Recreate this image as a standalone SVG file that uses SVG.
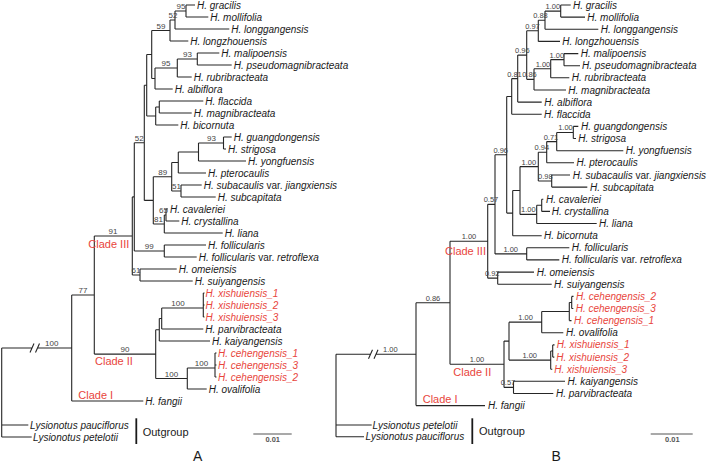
<svg xmlns="http://www.w3.org/2000/svg" width="709" height="462" viewBox="0 0 709 462">
<style>
.br{fill:none;stroke:#262626;stroke-width:1.1}
.lf{font-family:"Liberation Sans",Arial,sans-serif;font-size:10px;font-style:italic;fill:#1a1a1a}
.rd{fill:#e8453c}
.nv{font-style:normal}
.sa{font-family:"Liberation Sans",Arial,sans-serif;font-size:8px;fill:#444;text-anchor:middle}
.sb{font-family:"Liberation Sans",Arial,sans-serif;font-size:7.5px;fill:#444;text-anchor:middle}
.cl{font-family:"Liberation Sans",Arial,sans-serif;font-size:11px;fill:#e8453c}
.og{font-family:"Liberation Sans",Arial,sans-serif;font-size:11px;fill:#1a1a1a}
.bar{stroke:#1a1a1a;stroke-width:1.8}
.sc{stroke:#555;stroke-width:1.2}
.sct{font-family:"Liberation Sans",Arial,sans-serif;font-size:7.5px;fill:#555;text-anchor:middle;font-weight:bold}
.pl{font-family:"Liberation Sans",Arial,sans-serif;font-size:14px;fill:#1a1a1a}
</style>
<rect width="709" height="462" fill="#fff"/>
<g id="connectors">
<path class="br" d="M1.7,348V437M1.7,425H28.3M1.7,437H31.7M1.7,348H32M37.5,348H71.7
M30,352.5L34,343.5M35.5,352.5L39.5,343.5
M71.7,295V401M71.7,295H94.3M71.7,401H143.3
M94.3,236V354.1M94.3,236H132.3M94.3,354.1H155.7
M132.3,196.9V275M132.3,196.9H134.3M132.3,275H140
M140,269V281M140,269H176.7M140,281H192.7
M134.3,142.8V251M134.3,142.8H144.3M134.3,251H164.3
M164.3,245V257M164.3,245H206M164.3,257H196.7
M144.3,85.25V200.4M144.3,85.25H146.7M144.3,200.4H153.3
M146.7,54.5V116M146.7,54.5H151.7M146.7,116H155.7
M151.7,30.5V78.5M151.7,30.5H170M151.7,78.5H155
M170,20V41M170,20H175M170,41H188.3
M175,11V29M175,11H186M175,29H229.3
M186,5V17M186,5H195M186,17H208.3
M155,68V89M155,68H177.3M155,89H172.7
M177.3,59V77M177.3,59H197.3M177.3,77H191.7
M197.3,53V65M197.3,53H219.3M197.3,65H231.7
M155.7,107V125M155.7,107H159.3M155.7,125H178.3
M159.3,101V113M159.3,101H203.3M159.3,113H191.7
M153.3,176.75V224M153.3,176.75H171.7M153.3,224H164.3
M171.7,162.5V191M171.7,162.5H178.3M171.7,191H181
M178.3,152V173M178.3,152H198.5M178.3,173H206
M198.5,143V161M198.5,143H223.5M198.5,161H246
M223.5,137V149M223.5,137H231.7M223.5,149H226
M181,185V197M181,185H201.7M181,197H215.7
M164.3,215V233M164.3,215H166M164.3,233H222.7
M166,209V221M166,209H168M166,221H179.3
M155.7,329.75V378.5M155.7,329.75H159.3M155.7,378.5H187.3
M159.3,318.5V341M159.3,318.5H161.7M159.3,341H210
M161.7,308V329M161.7,308H203.3M161.7,329H203.3
M203.3,293V317M203.3,293H204.5M203.3,305H204.5M203.3,317H204.5
M187.3,368V389M187.3,368H215M187.3,389H206.7
M215,353V377M215,353H216.5M215,365H216.5M215,377H216.5"/>
<path class="br" d="M336,354.2V436.7M336,425H371.7M336,436.7H364M336,354.2H370.5M376,354.2H416
M368.5,358.7L372.5,349.7M374,358.7L378,349.7
M416,302.75V405.6M416,302.75H450M416,405.6H485
M450,241.25V364.25M450,241.25H487.7M450,364.25H504
M487.7,204.35V278.15M487.7,204.35H495M487.7,278.15H497.7
M497.7,272.1V284.2M497.7,272.1H534M497.7,284.2H551.7
M495,154.8V253.9M495,154.8H506.7M495,253.9H526.7
M526.7,247.8V259.9M526.7,247.8H569.3M526.7,259.9H559.3
M506.7,96.45V213.1M506.7,96.45H511.7M506.7,213.1H512.7
M511.7,78.6V114.3M511.7,78.6H517.7M511.7,114.3H541.7
M517.7,55.1V102.1M517.7,55.1H526.7M517.7,102.1H541.7
M526.7,30.8V79.35M526.7,30.8H538.3M526.7,79.35H534
M538.3,20.2V41.4M538.3,20.2H545M538.3,41.4H560
M545,11.1V29.3M545,11.1H560.7M545,29.3H598.3
M560.7,5V17.1M560.7,5H570.7M560.7,17.1H585
M534,68.7V90M534,68.7H550.7M534,90H566
M550.7,59.6V77.8M550.7,59.6H564M550.7,77.8H569.3
M564,53.6V65.7M564,53.6H578.3M564,65.7H580
M512.7,190.5V235.7M512.7,190.5H520M512.7,235.7H541.7
M520,166.6V214.4M520,166.6H538.3M520,214.4H536.7
M538.3,152.2V181.05M538.3,152.2H546.7M538.3,181.05H551.7
M546.7,141.6V162.8M546.7,141.6H556.7M546.7,162.8H574
M556.7,132.45V150.7M556.7,132.45H573.3M556.7,150.7H623.3
M573.3,126.4V138.5M573.3,126.4H578.3M573.3,138.5H576
M551.7,175V187.1M551.7,175H570M551.7,187.1H587.3
M536.7,205.3V223.5M536.7,205.3H541.7M536.7,223.5H596.7
M541.7,199.2V211.4M541.7,199.2H543.3M541.7,211.4H550
M504,341.1V387.4M504,341.1H509M504,387.4H513.5
M509,322.15V360.1M509,322.15H541.7M509,360.1H550.7
M541.7,311.5V332.8M541.7,311.5H569.3M541.7,332.8H563.3
M569.3,302.45V320.6M569.3,302.45H571.7M569.3,320.6H571.5
M571.7,296.4V308.5M571.7,296.4H573.5M571.7,308.5H573.3
M550.7,351V369.2M550.7,351H552.7M550.7,369.2H552.3
M552.7,344.9V357.1M552.7,344.9H554.5M552.7,357.1H554.3
M513.5,381.3V393.5M513.5,381.3H565M513.5,393.5H553.3"/>
</g>
<g id="support-A">
<text class="sa" x="181" y="9">95</text>
<text class="sa" x="173" y="18">52</text>
<text class="sa" x="161" y="28.5">59</text>
<text class="sa" x="187.5" y="57">93</text>
<text class="sa" x="166" y="66">95</text>
<text class="sa" x="211.5" y="141">93</text>
<text class="sa" x="162.7" y="175">89</text>
<text class="sa" x="176.5" y="189">51</text>
<text class="sa" x="163.5" y="213">65</text>
<text class="sa" x="158.5" y="222">81</text>
<text class="sa" x="139.3" y="141">52</text>
<text class="sa" x="149.3" y="249">99</text>
<text class="sa" x="136" y="273">61</text>
<text class="sa" x="113" y="234">91</text>
<text class="sa" x="83" y="293">77</text>
<text class="sa" x="51.7" y="346">100</text>
<text class="sa" x="125" y="352">90</text>
<text class="sa" x="178" y="306">100</text>
<text class="sa" x="201.5" y="366">100</text>
<text class="sa" x="171.5" y="376.5">100</text>
</g>
<g id="support-B">
<text class="sb" x="552.8" y="9">1.00</text>
<text class="sb" x="540.5" y="18">0.88</text>
<text class="sb" x="532.5" y="28.8">0.97</text>
<text class="sb" x="556.8" y="57.6">1.00</text>
<text class="sb" x="543" y="66.7">1.00</text>
<text class="sb" x="529.5" y="77.3">0.86</text>
<text class="sb" x="522.3" y="53">0.96</text>
<text class="sb" x="514.5" y="76.5">0.81</text>
<text class="sb" x="565.5" y="130.4">1.00</text>
<text class="sb" x="551" y="139.6">0.71</text>
<text class="sb" x="541.8" y="150.2">0.94</text>
<text class="sb" x="545.3" y="179">0.98</text>
<text class="sb" x="528.8" y="164.6">1.00</text>
<text class="sb" x="528.4" y="212.4">1.00</text>
<text class="sb" x="500.7" y="152.8">0.96</text>
<text class="sb" x="510.7" y="251.9">1.00</text>
<text class="sb" x="491" y="202.3">0.57</text>
<text class="sb" x="492.2" y="276.1">0.92</text>
<text class="sb" x="469" y="239.2">1.00</text>
<text class="sb" x="525.6" y="320.1">1.00</text>
<text class="sb" x="529.7" y="358.1">1.00</text>
<text class="sb" x="508" y="385.4">0.57</text>
<text class="sb" x="477" y="362.2">1.00</text>
<text class="sb" x="433" y="300.7">0.86</text>
<text class="sb" x="390.3" y="352.2">1.00</text>
</g>
<g id="leaves-A">
<g id="a-gracilis"><text class="lf" x="197" y="8.5">H. gracilis</text></g>
<g id="a-mollifolia"><text class="lf" x="210.3" y="20.5">H. mollifolia</text></g>
<g id="a-longgangensis"><text class="lf" x="231.3" y="32.5">H. longgangensis</text></g>
<g id="a-longzhouensis"><text class="lf" x="190.3" y="44.5">H. longzhouensis</text></g>
<g id="a-malipoensis"><text class="lf" x="221.3" y="56.5">H. malipoensis</text></g>
<g id="a-pseudomagnibracteata"><text class="lf" x="233.7" y="68.5">H. pseudomagnibracteata</text></g>
<g id="a-rubribracteata"><text class="lf" x="193.7" y="80.5">H. rubribracteata</text></g>
<g id="a-albiflora"><text class="lf" x="174.7" y="92.5">H. albiflora</text></g>
<g id="a-flaccida"><text class="lf" x="205.3" y="104.5">H. flaccida</text></g>
<g id="a-magnibracteata"><text class="lf" x="193.7" y="116.5">H. magnibracteata</text></g>
<g id="a-bicornuta"><text class="lf" x="180.3" y="128.5">H. bicornuta</text></g>
<g id="a-guangdongensis"><text class="lf" x="233.7" y="140.5">H. guangdongensis</text></g>
<g id="a-strigosa"><text class="lf" x="228" y="152.5">H. strigosa</text></g>
<g id="a-yongfuensis"><text class="lf" x="248" y="164.5">H. yongfuensis</text></g>
<g id="a-pterocaulis"><text class="lf" x="208" y="176.5">H. pterocaulis</text></g>
<g id="a-subacaulis"><text class="lf" x="203.7" y="188.5">H. subacaulis <tspan class="nv">var.</tspan> jiangxiensis</text></g>
<g id="a-subcapitata"><text class="lf" x="217.7" y="200.5">H. subcapitata</text></g>
<g id="a-cavaleriei"><text class="lf" x="170" y="212.5">H. cavaleriei</text></g>
<g id="a-crystallina"><text class="lf" x="181.3" y="224.5">H. crystallina</text></g>
<g id="a-liana"><text class="lf" x="224.7" y="236.5">H. liana</text></g>
<g id="a-follicularis"><text class="lf" x="208" y="248.5">H. follicularis</text></g>
<g id="a-retroflexa"><text class="lf" x="198.7" y="260.5">H. follicularis <tspan class="nv">var.</tspan> retroflexa</text></g>
<g id="a-omeiensis"><text class="lf" x="178.7" y="272.5">H. omeiensis</text></g>
<g id="a-suiyangensis"><text class="lf" x="194.7" y="284.5">H. suiyangensis</text></g>
<g id="a-xishuiensis1"><text class="lf rd" x="205.5" y="296.5">H. xishuiensis_1</text></g>
<g id="a-xishuiensis2"><text class="lf rd" x="205.5" y="308.5">H. xishuiensis_2</text></g>
<g id="a-xishuiensis3"><text class="lf rd" x="205.5" y="320.5">H. xishuiensis_3</text></g>
<g id="a-parvibracteata"><text class="lf" x="205.3" y="332.5">H. parvibracteata</text></g>
<g id="a-kaiyangensis"><text class="lf" x="212" y="344.5">H. kaiyangensis</text></g>
<g id="a-cehengensis1"><text class="lf rd" x="218" y="356.5">H. cehengensis_1</text></g>
<g id="a-cehengensis3"><text class="lf rd" x="218" y="368.5">H. cehengensis_3</text></g>
<g id="a-cehengensis2"><text class="lf rd" x="218" y="380.5">H. cehengensis_2</text></g>
<g id="a-ovalifolia"><text class="lf" x="208.7" y="392.5">H. ovalifolia</text></g>
<g id="a-fangii"><text class="lf" x="145.3" y="404.5">H. fangii</text></g>
<g id="a-pauciflorus"><text class="lf" x="30" y="428.5">Lysionotus pauciflorus</text></g>
<g id="a-petelotii"><text class="lf" x="33" y="440.5">Lysionotus petelotii</text></g>
</g>
<g id="clades-A">
<text class="cl" x="88.3" y="248">Clade III</text>
<text class="cl" x="95" y="365">Clade II</text>
<text class="cl" x="78.3" y="399">Clade I</text>
</g>
<g id="outgroup-A">
<line class="bar" x1="136.3" y1="418.3" x2="136.3" y2="444"/>
<text class="og" x="142.7" y="436">Outgroup</text>
</g>
<g id="scale-A">
<line class="sc" x1="253.3" y1="434" x2="291.7" y2="434"/>
<text class="sct" x="272.7" y="442">0.01</text>
</g>
<g id="label-A"><text class="pl" x="193" y="460.5">A</text></g>
<g id="leaves-B">
<g id="b-gracilis"><text class="lf" x="573" y="8.5">H. gracilis</text></g>
<g id="b-mollifolia"><text class="lf" x="587.3" y="20.6">H. mollifolia</text></g>
<g id="b-longgangensis"><text class="lf" x="600.7" y="32.8">H. longgangensis</text></g>
<g id="b-longzhouensis"><text class="lf" x="562.3" y="44.9">H. longzhouensis</text></g>
<g id="b-malipoensis"><text class="lf" x="580.7" y="57.1">H. malipoensis</text></g>
<g id="b-pseudomagnibracteata"><text class="lf" x="582" y="69.2">H. pseudomagnibracteata</text></g>
<g id="b-rubribracteata"><text class="lf" x="571.7" y="81.3">H. rubribracteata</text></g>
<g id="b-magnibracteata"><text class="lf" x="568.3" y="93.5">H. magnibracteata</text></g>
<g id="b-albiflora"><text class="lf" x="544.3" y="105.6">H. albiflora</text></g>
<g id="b-flaccida"><text class="lf" x="544" y="117.8">H. flaccida</text></g>
<g id="b-guangdongensis"><text class="lf" x="581" y="129.9">H. guangdongensis</text></g>
<g id="b-strigosa"><text class="lf" x="578.3" y="142">H. strigosa</text></g>
<g id="b-yongfuensis"><text class="lf" x="625.7" y="154.2">H. yongfuensis</text></g>
<g id="b-pterocaulis"><text class="lf" x="576.5" y="166.3">H. pterocaulis</text></g>
<g id="b-subacaulis"><text class="lf" x="572.7" y="178.5">H. subacaulis <tspan class="nv">var.</tspan> jiangxiensis</text></g>
<g id="b-subcapitata"><text class="lf" x="590" y="190.6">H. subcapitata</text></g>
<g id="b-cavaleriei"><text class="lf" x="546" y="202.7">H. cavaleriei</text></g>
<g id="b-crystallina"><text class="lf" x="551.7" y="214.9">H. crystallina</text></g>
<g id="b-liana"><text class="lf" x="599" y="227">H. liana</text></g>
<g id="b-bicornuta"><text class="lf" x="544" y="239.2">H. bicornuta</text></g>
<g id="b-follicularis"><text class="lf" x="571.7" y="251.3">H. follicularis</text></g>
<g id="b-retroflexa"><text class="lf" x="561.7" y="263.4">H. follicularis <tspan class="nv">var.</tspan> retroflexa</text></g>
<g id="b-omeiensis"><text class="lf" x="536.7" y="275.6">H. omeiensis</text></g>
<g id="b-suiyangensis"><text class="lf" x="554" y="287.7">H. suiyangensis</text></g>
<g id="b-cehengensis2"><text class="lf rd" x="576" y="299.9">H. cehengensis_2</text></g>
<g id="b-cehengensis3"><text class="lf rd" x="575.7" y="312">H. cehengensis_3</text></g>
<g id="b-cehengensis1"><text class="lf rd" x="574" y="324.1">H. cehengensis_1</text></g>
<g id="b-ovalifolia"><text class="lf" x="566" y="336.3">H. ovalifolia</text></g>
<g id="b-xishuiensis1"><text class="lf rd" x="556.7" y="348.4">H. xishuiensis_1</text></g>
<g id="b-xishuiensis2"><text class="lf rd" x="556.3" y="360.6">H. xishuiensis_2</text></g>
<g id="b-xishuiensis3"><text class="lf rd" x="554.3" y="372.7">H. xishuiensis_3</text></g>
<g id="b-kaiyangensis"><text class="lf" x="567.5" y="384.8">H. kaiyangensis</text></g>
<g id="b-parvibracteata"><text class="lf" x="556" y="397">H. parvibracteata</text></g>
<g id="b-fangii"><text class="lf" x="488" y="409.1">H. fangii</text></g>
<g id="b-petelotii"><text class="lf" x="372.5" y="428.5">Lysionotus petelotii</text></g>
<g id="b-pauciflorus"><text class="lf" x="365.5" y="440.2">Lysionotus pauciflorus</text></g>
</g>
<g id="clades-B">
<text class="cl" x="445" y="254.5">Clade III</text>
<text class="cl" x="453.3" y="375.5">Clade II</text>
<text class="cl" x="422.7" y="403">Clade I</text>
</g>
<g id="outgroup-B">
<line class="bar" x1="472.3" y1="418.3" x2="472.3" y2="444"/>
<text class="og" x="479" y="435">Outgroup</text>
</g>
<g id="scale-B">
<line class="sc" x1="650.7" y1="434" x2="692.7" y2="434"/>
<text class="sct" x="672.3" y="441.5">0.01</text>
</g>
<g id="label-B"><text class="pl" x="551.5" y="460.5">B</text></g>
</svg>
